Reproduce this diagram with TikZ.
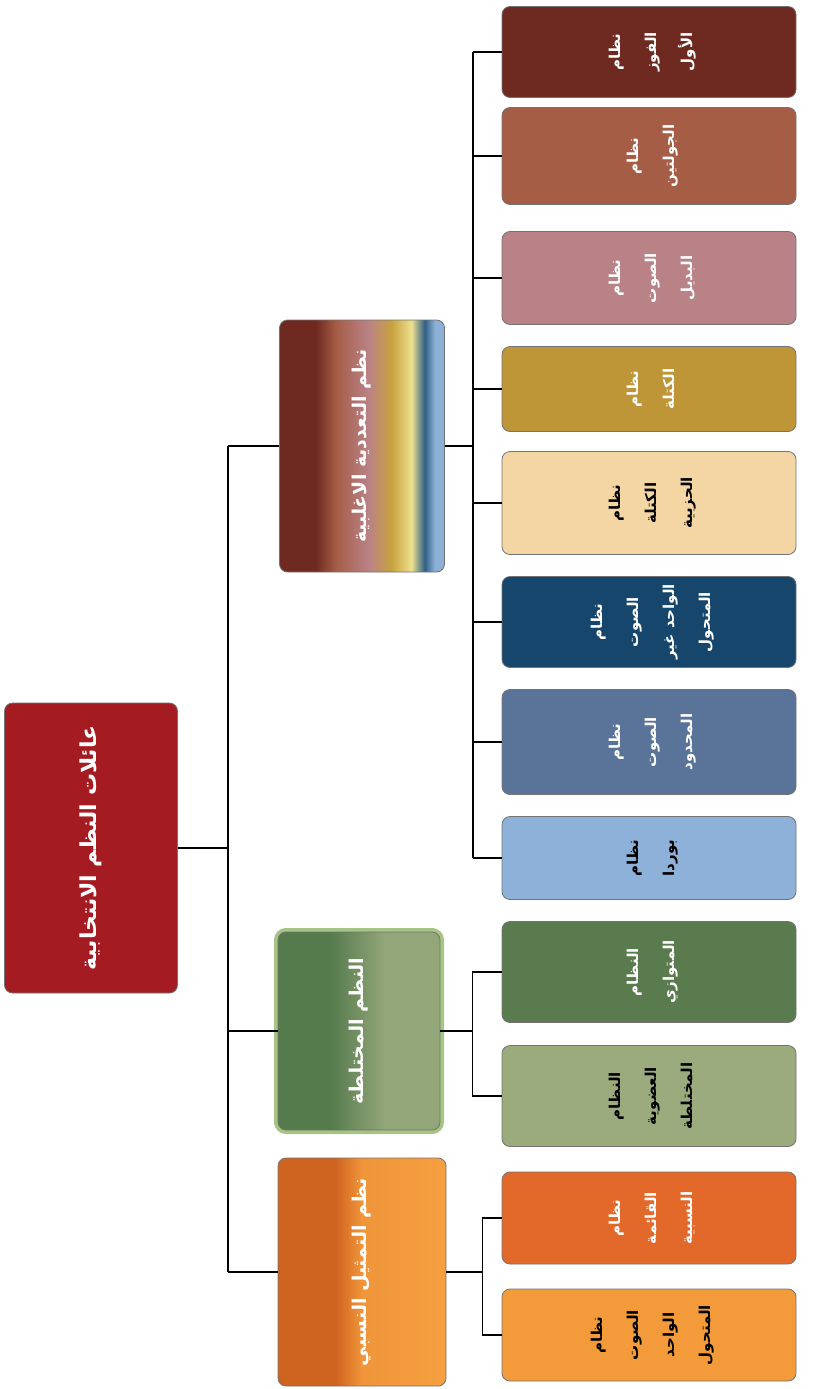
\documentclass[tikz,border=0pt]{standalone}
\usepackage{fontspec}
\usepackage{graphicx}
\newfontfamily\arabicfont[Script=Arabic]{DejaVu Sans}
\TeXXeTstate=1

\definecolor{rootred}{HTML}{A41C22}
\definecolor{plA}{HTML}{6E2A20}
\definecolor{plB}{HTML}{A55D47}
\definecolor{plC}{HTML}{BA8286}
\definecolor{plD}{HTML}{C8A23E}
\definecolor{plE}{HTML}{EDE08F}
\definecolor{plF}{HTML}{2F5F86}
\definecolor{plG}{HTML}{8CB0D6}
\definecolor{mxA}{HTML}{557A4C}
\definecolor{mxB}{HTML}{93A679}
\definecolor{prA}{HTML}{CF6320}
\definecolor{prB}{HTML}{F0953A}
\definecolor{prC}{HTML}{F5A040}
\definecolor{glowgreen}{HTML}{6A9E34}
\definecolor{cA}{HTML}{6E2A20}
\definecolor{cB}{HTML}{A65D46}
\definecolor{cC}{HTML}{B98286}
\definecolor{cD}{HTML}{BE9637}
\definecolor{cE}{HTML}{F4D6A5}
\definecolor{cF}{HTML}{16466B}
\definecolor{cG}{HTML}{5A7399}
\definecolor{cH}{HTML}{8DB1D8}
\definecolor{cI}{HTML}{5A7B4E}
\definecolor{cJ}{HTML}{9BAB7D}
\definecolor{cK}{HTML}{E3692A}
\definecolor{cL}{HTML}{F39B3A}

\pgfdeclarehorizontalshading{pluralshade}{100bp}{color(0bp)=(plA); color(25bp)=(plA); color(36bp)=(plA); color(42bp)=(plB); color(52bp)=(plC); color(59bp)=(plD); color(65bp)=(plE); color(69bp)=(plF); color(72bp)=(plG); color(75bp)=(plG); color(100bp)=(plG)}
\pgfdeclarehorizontalshading{mixedshade}{100bp}{color(0bp)=(mxA); color(25bp)=(mxA); color(41bp)=(mxA); color(58bp)=(mxB); color(75bp)=(mxB); color(100bp)=(mxB)}
\pgfdeclarehorizontalshading{propshade}{100bp}{color(0bp)=(prA); color(25bp)=(prA); color(42bp)=(prA); color(50bp)=(prB); color(75bp)=(prC); color(100bp)=(prC)}

\newcommand{\rl}[1]{\beginR #1\endR}
\newcommand{\vlabel}[1]{\rotatebox{90}{\begin{tabular}{@{}c@{}}#1\end{tabular}}}

\begin{document}
\begin{tikzpicture}[x=1pt,y=-1pt,
  box/.style={draw=black!55, line width=0.8pt, rounded corners=8pt, inner sep=0pt, text=white},
  leaf/.style={box, minimum width=294pt, font=\arabicfont\bfseries\fontsize{15}{36}\selectfont},
  head/.style={box, font=\arabicfont\bfseries\fontsize{19}{24}\selectfont},
  glow/.style={preaction={draw=glowgreen, line width=8pt, opacity=.6}},
  link/.style={line width=1.2pt}]
\useasboundingbox (0,0) rectangle (817,1389);

\node[box, fill=rootred, minimum width=173pt, minimum height=290pt, font=\arabicfont\bfseries\fontsize{22}{28}\selectfont] (root) at (91,848) {\vlabel{\rl{عائلات النظم الانتخابية}}};

\node[head, shading=pluralshade, minimum width=165pt, minimum height=252pt] (plural) at (362,446) {\vlabel{\rl{نظم التعددية الاغلبية}}};
\node[head, shading=mixedshade, glow, minimum width=162pt, minimum height=198pt] (mixed) at (359,1031) {\vlabel{\rl{النظم المختلطة}}};
\node[head, shading=propshade, minimum width=168pt, minimum height=228pt] (prop) at (362,1272) {\vlabel{\rl{نظم التمثيل النسبي}}};

\node[leaf, fill=cA, minimum height=91pt] (l1) at (649,52) {\vlabel{\rl{نظام}\\\rl{الفوز}\\\rl{الأول}}};
\node[leaf, fill=cB, minimum height=97pt] (l2) at (649,156) {\vlabel{\rl{نظام}\\\rl{الجولتين}}};
\node[leaf, fill=cC, minimum height=93pt] (l3) at (649,278) {\vlabel{\rl{نظام}\\\rl{الصوت}\\\rl{البديل}}};
\node[leaf, fill=cD, minimum height=85pt] (l4) at (649,389) {\vlabel{\rl{نظام}\\\rl{الكتلة}}};
\node[leaf, fill=cE, minimum height=103pt, text=black] (l5) at (649,503) {\vlabel{\rl{نظام}\\\rl{الكتلة}\\\rl{الحزبية}}};
\node[leaf, fill=cF, minimum height=91pt] (l6) at (649,622) {\vlabel{\rl{نظام}\\\rl{الصوت}\\\rl{الواحد غير}\\\rl{المتحول}}};
\node[leaf, fill=cG, minimum height=105pt] (l7) at (649,742) {\vlabel{\rl{نظام}\\\rl{الصوت}\\\rl{المحدود}}};
\node[leaf, fill=cH, minimum height=83pt, text=black] (l8) at (649,858) {\vlabel{\rl{نظام}\\\rl{بوردا}}};
\node[leaf, fill=cI, minimum height=101pt] (l9) at (649,972) {\vlabel{\rl{النظام}\\\rl{المتوازي}}};
\node[leaf, fill=cJ, minimum height=101pt, text=black] (l10) at (649,1096) {\vlabel{\rl{النظام}\\\rl{العضوية}\\\rl{المختلطة}}};
\node[leaf, fill=cK, minimum height=92pt] (l11) at (649,1218) {\vlabel{\rl{نظام}\\\rl{القائمة}\\\rl{النسبية}}};
\node[leaf, fill=cL, minimum height=92pt, text=black] (l12) at (649,1335) {\vlabel{\rl{نظام}\\\rl{الصوت}\\\rl{الواحد}\\\rl{المتحول}}};

% root to the three families
\draw[link] (root.east) -- ++(50,0) coordinate (rj);
\draw[link] (rj |- plural.west) -- (rj |- prop.west);
\draw[link] (rj |- plural.west) -- (plural.west);
\draw[link] (rj |- mixed.west) -- (mixed.west);
\draw[link] (rj |- prop.west) -- (prop.west);

% plurality systems
\draw[link] (plural.east) -- ++(28,0) coordinate (pj);
\draw[link] (pj |- l1.west) -- (pj |- l8.west);
\foreach \i in {1,...,8}
  \draw[link] (pj |- l\i.west) -- (l\i.west);

% mixed systems
\draw[link] (mixed.east) -- ++(32,0) coordinate (mj);
\draw[link] (mj |- l9.west) -- (mj |- l10.west);
\draw[link] (mj |- l9.west) -- (l9.west);
\draw[link] (mj |- l10.west) -- (l10.west);

% proportional systems
\draw[link] (prop.east) -- ++(36,0) coordinate (qj);
\draw[link] (qj |- l11.west) -- (qj |- l12.west);
\draw[link] (qj |- l11.west) -- (l11.west);
\draw[link] (qj |- l12.west) -- (l12.west);
\end{tikzpicture}
\end{document}
